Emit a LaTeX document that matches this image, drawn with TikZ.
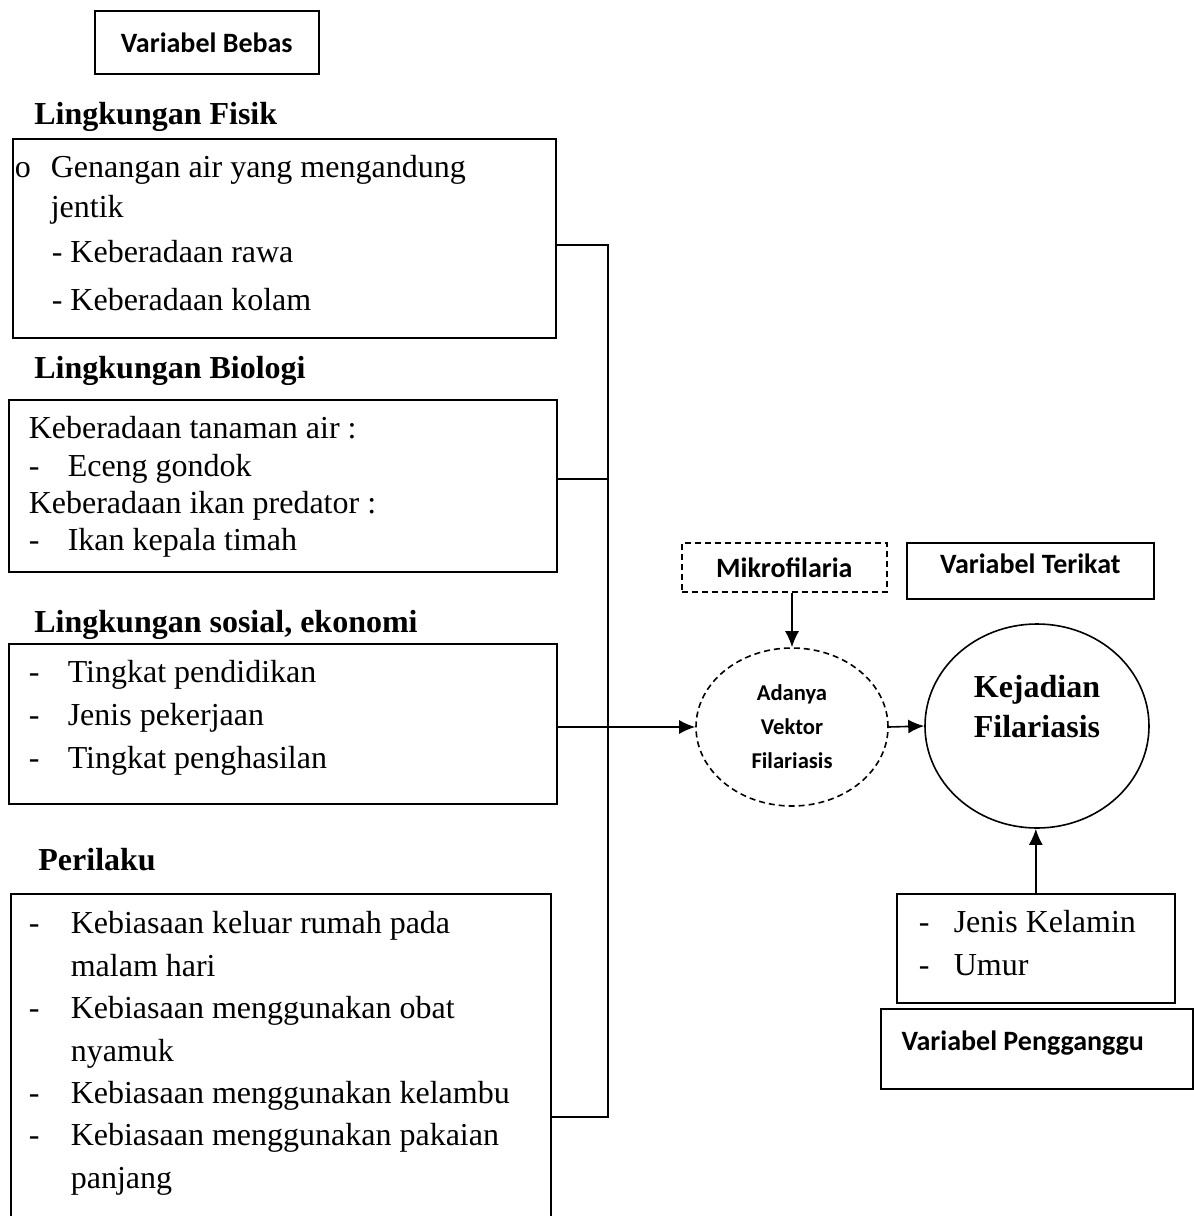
\documentclass[tikz,border=0pt]{standalone}
\usepackage{fontspec}
\setmainfont{Liberation Serif}
\newfontfamily\carlito{Carlito}
\usetikzlibrary{arrows.meta,shapes.geometric}
\tikzset{>={Latex[length=8pt,width=7pt]}}
\tikzset{
  box/.style={draw, line width=0.8pt, inner sep=0pt, anchor=north west},
  lbl/.style={box, font=\carlito\bfseries\fontsize{14}{17}\selectfont, align=center},
  head/.style={inner sep=0pt, anchor=base west, font=\bfseries\fontsize{16}{19}\selectfont},
  link/.style={line width=0.8pt},
  dashy/.style={dash pattern=on 3pt off 2pt}
}
\newcommand{\boxtext}[4]{\begin{minipage}[c][#2][t]{#1}\raggedright\fontsize{16}{#3}\selectfont#4\end{minipage}}
\newcommand{\itm}[2]{\hspace*{#1}\makebox[#2][l]{-}}

\begin{document}
\begin{tikzpicture}[x=0.5pt,y=-0.5pt]
  \useasboundingbox (0,0) rectangle (1194,1216);
  % independent variables
  \node[lbl, minimum width=112pt, minimum height=31.5pt] (bebas) at (94,10) {Variabel Bebas};
  \node[head] (hfisik) at (34,124) {Lingkungan Fisik};
  \node[box] (fisik) at (12,138) {\boxtext{271.5pt}{99.5pt}{20pt}{%
    \rule{0pt}{19.5pt}\hspace*{1pt}\makebox[18pt][l]{o}Genangan air yang mengandung\\
    \hspace*{19pt}jentik\\[2.5pt]
    \hspace*{19.5pt}- Keberadaan rawa\\[4pt]
    \hspace*{19.5pt}- Keberadaan kolam}};
  \node[head] (hbiologi) at (34,378) {Lingkungan Biologi};
  \node[box] (biologi) at (8,399) {\boxtext{274pt}{86pt}{18.6pt}{%
    \rule{0pt}{19.5pt}\hspace*{10pt}Keberadaan tanaman air :\\
    \itm{10pt}{19.5pt}Eceng gondok\\
    \hspace*{10pt}Keberadaan ikan predator :\\
    \itm{10pt}{19.5pt}Ikan kepala timah}};
  \node[head] (hsosial) at (34,632) {Lingkungan sosial, ekonomi};
  \node[box] (sosial) at (8,643) {\boxtext{274pt}{80pt}{21.5pt}{%
    \rule{0pt}{19.5pt}\itm{10pt}{19.5pt}Tingkat pendidikan\\
    \itm{10pt}{19.5pt}Jenis pekerjaan\\
    \itm{10pt}{19.5pt}Tingkat penghasilan}};
  \node[head] (hperilaku) at (38,870) {Perilaku};
  \node[box] (perilaku) at (10,893) {\boxtext{270pt}{173.5pt}{21.2pt}{%
    \rule{0pt}{20pt}\itm{9pt}{21pt}Kebiasaan keluar rumah pada\\
    \hspace*{30pt}malam hari\\
    \itm{9pt}{21pt}Kebiasaan menggunakan obat\\
    \hspace*{30pt}nyamuk\\
    \itm{9pt}{21pt}Kebiasaan menggunakan kelambu\\
    \itm{9pt}{21pt}Kebiasaan menggunakan pakaian\\
    \hspace*{30pt}panjang}};
  % vector and outcome
  \node[lbl, dashy, minimum width=102.5pt, minimum height=24.5pt] (mikro) at (681,542) {Mikrofilaria};
  \node[lbl, minimum width=123.5pt, minimum height=28pt] (terikat) at (906,542) {\raisebox{7pt}{Variabel Terikat}};
  \node[draw, ellipse, link, dashy, inner sep=0pt, minimum width=96pt, minimum height=79pt,
        align=center, font=\carlito\bfseries\fontsize{11.3}{17}\selectfont] (vektor) at (792,727)
        {Adanya\\Vektor\\Filariasis};
  \node[draw, ellipse, link, inner sep=0pt, minimum width=112pt, minimum height=102pt,
        align=center, font=\bfseries\fontsize{16}{20}\selectfont] (kejadian) at (1037,726)
        {Kejadian\\Filariasis\\\mbox{}};
  % confounders
  \node[box] (jenis) at (896,893) {\boxtext{139pt}{54.5pt}{21.5pt}{%
    \rule{0pt}{19.5pt}\itm{11pt}{17.5pt}Jenis Kelamin\\
    \itm{11pt}{17.5pt}Umur}};
  \node[lbl, minimum width=156pt, minimum height=40pt] (ganggu) at (880,1008) {\raisebox{8pt}{Variabel Pengganggu}\hspace{14pt}};
  % connectors
  \coordinate (b1) at (608,245);
  \coordinate (b2) at (608,479);
  \coordinate (b4) at (608,1117);
  \draw[link] (fisik.east |- b1) -- (b1) -- (b4) -- (perilaku.east |- b4);
  \draw[link] (biologi.east |- b2) -- (b2);
  \draw[link,->] (sosial.east |- vektor.west) -- (vektor.west);
  \draw[link,->] (vektor.north |- mikro.south) -- (vektor.north);
  \draw[link,->] (vektor.east) -- (kejadian.west);
  \draw[link,->] (jenis.north) -- (jenis.north |- kejadian.south);
\end{tikzpicture}
\end{document}
